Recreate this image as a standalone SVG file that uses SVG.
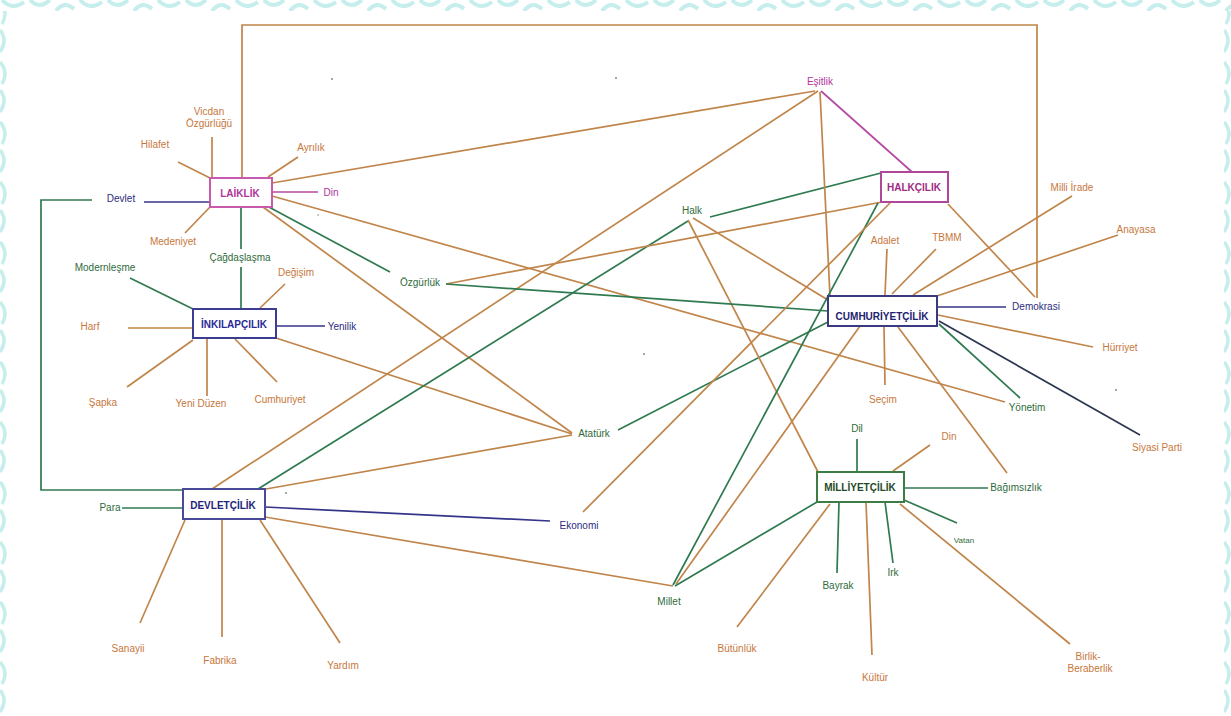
<svg xmlns="http://www.w3.org/2000/svg" width="1231" height="716" viewBox="0 0 1231 716">
<defs>
<pattern id="bt" x="0" y="0" width="78" height="11" patternUnits="userSpaceOnUse">
<path d="M2 0 Q12 11 24 2 M30 0 Q39 10 50 0 M56 11 Q64 0 74 9" fill="none" stroke="#c6eeec" stroke-width="4"/>
</pattern>
<pattern id="bs" x="0" y="0" width="9" height="60" patternUnits="userSpaceOnUse">
<path d="M0 2 Q9 12 2 24 M0 30 Q8 40 0 52" fill="none" stroke="#c6eeec" stroke-width="3.5"/>
</pattern>
<style>
.o{stroke:#c0854a;stroke-width:1.7;fill:none}
.g{stroke:#2f7a50;stroke-width:1.7;fill:none}
.n{stroke:#34348a;stroke-width:1.7;fill:none}
.m{stroke:#b54aa2;stroke-width:1.7;fill:none}
.d{stroke:#2c3650;stroke-width:1.7;fill:none}
text{font-family:"Liberation Sans",Arial,sans-serif;font-size:10px;text-anchor:middle}
.to{fill:#c7773c}
.tg{fill:#2f6b3c}
.tn{fill:#2c2c80}
.tm{fill:#b0349a}
.bx{fill:#ffffff;stroke-width:2}
.bt{font-weight:bold}
</style>
</defs>
<rect x="0" y="0" width="1231" height="716" fill="#ffffff"/>
<rect x="0" y="0" width="1231" height="11" fill="url(#bt)"/>
<rect x="0" y="11" width="9" height="705" fill="url(#bs)"/>
<rect x="1223" y="11" width="8" height="705" fill="url(#bs)"/>
<g id="connectors">
<polyline class="o" points="242,178 242,25 1037,25 1037,298"/>
<line class="o" x1="948" y1="204" x2="1035" y2="297"/>
<polyline class="g" points="92,200 41,200 41,490 183,490"/>
<line class="o" x1="272" y1="183" x2="815" y2="91"/>
<line class="o" x1="268" y1="177" x2="298" y2="157"/>
<line class="m" x1="272" y1="192" x2="318" y2="192"/>
<line class="o" x1="178" y1="162" x2="210" y2="178"/>
<line class="o" x1="212" y1="137" x2="212" y2="178"/>
<line class="n" x1="144" y1="202" x2="210" y2="202"/>
<line class="o" x1="185" y1="233" x2="210" y2="207"/>
<line class="g" x1="241" y1="207" x2="241" y2="249"/>
<line class="g" x1="241" y1="267" x2="241" y2="309"/>
<line class="g" x1="267" y1="206" x2="390" y2="272"/>
<line class="o" x1="263" y1="207" x2="572" y2="433"/>
<line class="o" x1="272" y1="196" x2="1005" y2="402"/>
<line class="o" x1="260" y1="308" x2="285" y2="284"/>
<line class="g" x1="130" y1="278" x2="193" y2="309"/>
<line class="o" x1="128" y1="328" x2="193" y2="328"/>
<line class="n" x1="276" y1="326" x2="325" y2="326"/>
<line class="o" x1="127" y1="387" x2="193" y2="340"/>
<line class="o" x1="207" y1="338" x2="207" y2="396"/>
<line class="o" x1="235" y1="339" x2="277" y2="382"/>
<line class="o" x1="276" y1="338" x2="572" y2="434"/>
<line class="o" x1="572" y1="435" x2="266" y2="489"/>
<line class="g" x1="618" y1="430" x2="828" y2="322"/>
<line class="o" x1="212" y1="489" x2="818" y2="91"/>
<line class="g" x1="258" y1="489" x2="688" y2="221"/>
<line class="g" x1="710" y1="217" x2="881" y2="173"/>
<line class="o" x1="693" y1="218" x2="828" y2="300"/>
<line class="o" x1="688" y1="220" x2="818" y2="472"/>
<line class="m" x1="821" y1="91" x2="912" y2="172"/>
<line class="o" x1="820" y1="92" x2="830" y2="296"/>
<line class="o" x1="882" y1="202" x2="446" y2="284"/>
<line class="g" x1="446" y1="284" x2="828" y2="311"/>
<line class="g" x1="878" y1="203" x2="673" y2="585"/>
<line class="o" x1="890" y1="203" x2="583" y2="512"/>
<line class="o" x1="860" y1="326" x2="676" y2="584"/>
<line class="g" x1="817" y1="502" x2="675" y2="586"/>
<line class="o" x1="265" y1="517" x2="673" y2="586"/>
<line class="n" x1="265" y1="507" x2="550" y2="521"/>
<line class="g" x1="122" y1="508" x2="183" y2="508"/>
<line class="o" x1="185" y1="520" x2="140" y2="623"/>
<line class="o" x1="222" y1="520" x2="222" y2="637"/>
<line class="o" x1="260" y1="520" x2="340" y2="643"/>
<line class="o" x1="887" y1="249" x2="885" y2="295"/>
<line class="o" x1="892" y1="294" x2="936" y2="249"/>
<line class="o" x1="913" y1="295" x2="1072" y2="196"/>
<line class="o" x1="937" y1="296" x2="1118" y2="235"/>
<line class="n" x1="937" y1="307" x2="1006" y2="307"/>
<line class="o" x1="938" y1="315" x2="1093" y2="347"/>
<line class="g" x1="939" y1="324" x2="1020" y2="398"/>
<line class="d" x1="939" y1="321" x2="1140" y2="435"/>
<line class="o" x1="884" y1="327" x2="885" y2="385"/>
<line class="o" x1="898" y1="327" x2="1007" y2="473"/>
<line class="g" x1="857" y1="439" x2="857" y2="472"/>
<line class="o" x1="893" y1="471" x2="930" y2="445"/>
<line class="g" x1="905" y1="488" x2="988" y2="488"/>
<line class="g" x1="904" y1="500" x2="957" y2="523"/>
<line class="o" x1="900" y1="504" x2="1070" y2="644"/>
<line class="g" x1="885" y1="502" x2="893" y2="563"/>
<line class="g" x1="839" y1="502" x2="837" y2="573"/>
<line class="o" x1="866" y1="502" x2="872" y2="655"/>
<line class="o" x1="830" y1="504" x2="737" y2="627"/>
</g>
<g id="dots" fill="#8a8a8a">
<circle cx="332" cy="79" r="1"/>
<circle cx="616" cy="78" r="1"/>
<circle cx="318" cy="215" r="0.8"/>
<circle cx="644" cy="354" r="1"/>
<circle cx="286" cy="493" r="1"/>
<circle cx="1116" cy="390" r="1"/>
</g>
<g id="laiklik"><rect class="bx" x="210" y="178" width="62" height="29" stroke="#c85aae"/><text class="bt tm" x="240" y="197">LAİKLİK</text></g>
<g id="halkcilik"><rect class="bx" x="881" y="172" width="67" height="30" stroke="#b0489a"/><text class="bt" x="914" y="191" fill="#a02c84">HALKÇILIK</text></g>
<g id="inkilapcilik"><rect class="bx" x="193" y="309" width="83" height="29" stroke="#3c3c90"/><text class="bt" x="234" y="328" fill="#2a2a96">İNKILAPÇILIK</text></g>
<g id="cumhuriyetcilik"><rect class="bx" x="828" y="296" width="109" height="30" stroke="#3a3a80"/><text class="bt" x="882" y="320" fill="#222270">CUMHURİYETÇİLİK</text></g>
<g id="devletcilik"><rect class="bx" x="183" y="489" width="82" height="30" stroke="#4a4a98"/><text class="bt" x="223" y="509" fill="#23237a">DEVLETÇİLİK</text></g>
<g id="milliyetcilik"><rect class="bx" x="817" y="472" width="87" height="30" stroke="#3d7d45"/><text class="bt" x="860" y="491" fill="#1f4a26">MİLLİYETÇİLİK</text></g>
<g id="vicdan"><text class="to" x="209" y="115">Vicdan</text><text class="to" x="209" y="127">Özgürlüğü</text></g>
<g id="hilafet"><text class="to" x="155" y="148">Hilafet</text></g>
<g id="ayrilik"><text class="to" x="311" y="151">Ayrılık</text></g>
<g id="din1"><text class="tm" x="331" y="196">Din</text></g>
<g id="devlet"><text class="tn" x="121" y="202">Devlet</text></g>
<g id="medeniyet"><text class="to" x="173" y="245">Medeniyet</text></g>
<g id="cagdaslasma"><text class="tg" x="240" y="261">Çağdaşlaşma</text></g>
<g id="modernlesme"><text class="tg" x="105" y="271">Modernleşme</text></g>
<g id="degisim"><text class="to" x="296" y="276">Değişim</text></g>
<g id="harf"><text class="to" x="90" y="330">Harf</text></g>
<g id="yenilik"><text class="tn" x="342" y="330">Yenilik</text></g>
<g id="sapka"><text class="to" x="103" y="406">Şapka</text></g>
<g id="yeniduzen"><text class="to" x="201" y="407">Yeni Düzen</text></g>
<g id="cumhuriyet"><text class="to" x="280" y="403">Cumhuriyet</text></g>
<g id="ozgurluk"><text class="tg" x="420" y="286">Özgürlük</text></g>
<g id="ataturk"><text class="tg" x="594" y="437">Atatürk</text></g>
<g id="esitlik"><text class="tm" x="820" y="85">Eşitlik</text></g>
<g id="halk"><text class="tg" x="692" y="214">Halk</text></g>
<g id="adalet"><text class="to" x="885" y="244">Adalet</text></g>
<g id="tbmm"><text class="to" x="947" y="241">TBMM</text></g>
<g id="milliirade"><text class="to" x="1072" y="191">Milli İrade</text></g>
<g id="anayasa"><text class="to" x="1136" y="233">Anayasa</text></g>
<g id="demokrasi"><text class="tn" x="1036" y="310">Demokrasi</text></g>
<g id="hurriyet"><text class="to" x="1120" y="351">Hürriyet</text></g>
<g id="yonetim"><text class="tg" x="1027" y="411">Yönetim</text></g>
<g id="siyasiparti"><text class="to" x="1157" y="451">Siyasi Parti</text></g>
<g id="secim"><text class="to" x="883" y="403">Seçim</text></g>
<g id="dil"><text class="tg" x="857" y="432">Dil</text></g>
<g id="din2"><text class="to" x="949" y="440">Din</text></g>
<g id="bagimsizlik"><text class="tg" x="1016" y="491">Bağımsızlık</text></g>
<g id="vatan"><text class="tg" x="964" y="543" style="font-size:8px">Vatan</text></g>
<g id="irk"><text class="tg" x="893" y="576">Irk</text></g>
<g id="bayrak"><text class="tg" x="838" y="589">Bayrak</text></g>
<g id="kultur"><text class="to" x="875" y="681">Kültür</text></g>
<g id="butunluk"><text class="to" x="737" y="652">Bütünlük</text></g>
<g id="millet"><text class="tg" x="669" y="605">Millet</text></g>
<g id="birlik"><text class="to" x="1088" y="660">Birlik-</text><text class="to" x="1090" y="672">Beraberlik</text></g>
<g id="ekonomi"><text class="tn" x="579" y="529">Ekonomi</text></g>
<g id="para"><text class="tg" x="110" y="511">Para</text></g>
<g id="sanayii"><text class="to" x="128" y="652">Sanayii</text></g>
<g id="fabrika"><text class="to" x="220" y="664">Fabrika</text></g>
<g id="yardim"><text class="to" x="343" y="669">Yardım</text></g>
</svg>
